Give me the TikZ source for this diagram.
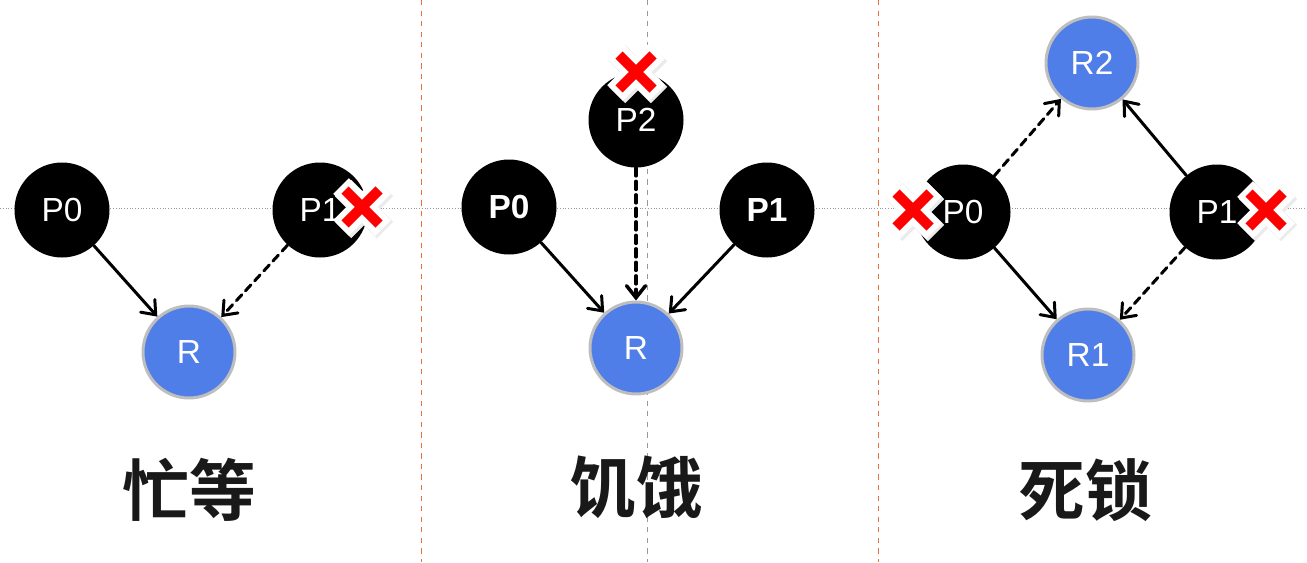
\documentclass[tikz,border=0pt]{standalone}
\usepackage{fontspec}
\setmainfont{Liberation Sans}
\newfontfamily\cjkfont{Noto Sans CJK SC Bold}
\usepackage{tikz}
\usetikzlibrary{arrows.meta,calc}
\definecolor{resblue}{RGB}{80,126,232}
\definecolor{ringgray}{RGB}{190,190,190}
\definecolor{sepred}{RGB}{236,110,60}

\begin{document}
\begin{tikzpicture}[
  x=0.2mm, y=-0.2mm,
  proc/.style={circle, fill=black, text=white, minimum size=19mm, inner sep=0pt, font=\fontsize{19}{19}\selectfont},
  res/.style={circle, fill=resblue, draw=ringgray, line width=0.6mm, text=white, minimum size=18.4mm, inner sep=0pt, font=\fontsize{19}{19}\selectfont},
  arr/.style={-{Straight Barb[length=2.4mm, width=3.8mm, line cap=round]}, line width=0.6mm, line cap=round},
  dsh/.style={arr, dash pattern=on 1.6mm off 1.1mm},
  title/.style={font=\cjkfont\fontsize{38}{38}\selectfont, text=black!90},
  failx/.pic={
    \draw[black!8, line width=4.6mm] (-19,-19) -- (23,23) (23,-19) -- (-19,23);
    \draw[white, line width=4.4mm] (-21,-21) -- (21,21) (21,-21) -- (-21,21);
    \draw[red, line width=2mm] (-17,-17) -- (17,17) (17,-17) -- (-17,17);
  }
]
\useasboundingbox (0,0) rectangle (1307,562);
% guide lines
\draw[gray!80, densely dotted, line width=0.2mm] (0,208) -- (1307,208);
\draw[gray!80, dashed, line width=0.2mm] (647,0) -- (647,562);
\draw[sepred, dashed, line width=0.2mm] (421,0) -- (421,562);
\draw[sepred, dashed, line width=0.2mm] (878,0) -- (878,562);

% busy waiting
\node[proc] (bwP0) at (62,210) {P0};
\node[proc] (bwP1) at (320,210) {P1};
\node[res] (bwR) at (189,352) {R};
\draw[arr] (bwP0) -- (bwR);
\draw[dsh] (bwP1) -- (bwR);
\pic at (362,207) {failx};
\node[title] (bwT) at (189,490) {忙等};

% starvation
\node[proc] (stP2) at (636,120) {P2};
\node[proc, font=\fontsize{19}{19}\selectfont\bfseries] (stP0) at (509,207) {P0};
\node[proc, font=\fontsize{19}{19}\selectfont\bfseries] (stP1) at (767,210) {P1};
\node[res] (stR) at (636,348) {R};
\draw[arr] (stP0) -- (stR);
\draw[arr] (stP1) -- (stR);
\draw[dsh, line width=0.7mm] (stP2) -- (stR);
\pic at (636,72) {failx};
\node[title] (stT) at (636,487) {饥饿};

% deadlock
\node[res] (dlR2) at (1092,63) {R2};
\node[proc] (dlP0) at (963,212) {P0};
\node[proc] (dlP1) at (1217,212) {P1};
\node[res] (dlR1) at (1088,355) {R1};
\draw[dsh] (dlP0) -- (dlR2);
\draw[arr] (dlP0) -- (dlR1);
\draw[arr] (dlP1) -- (dlR2);
\draw[dsh] (dlP1) -- (dlR1);
\pic at (913,210) {failx};
\pic at (1266,210) {failx};
\node[title] (dlT) at (1085,490) {死锁};
\end{tikzpicture}
\end{document}
